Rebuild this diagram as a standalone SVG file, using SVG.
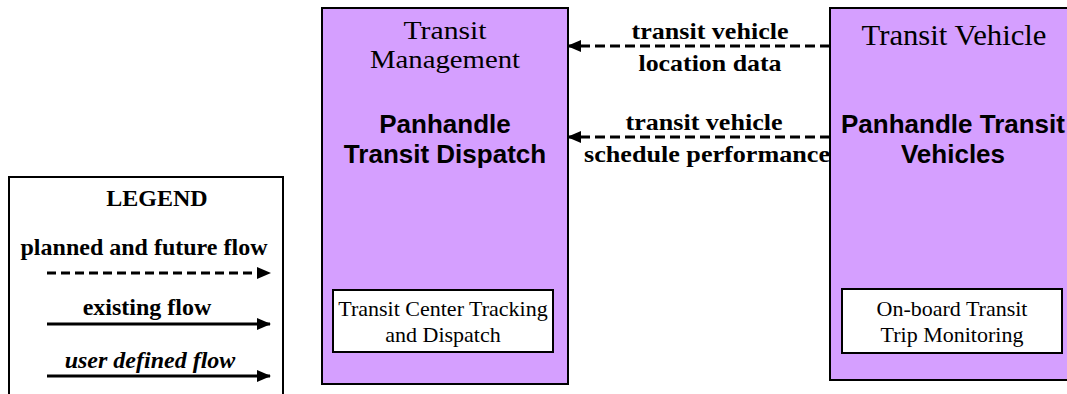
<svg xmlns="http://www.w3.org/2000/svg" width="1067" height="394" viewBox="0 0 1067 394">
<style>
.node{fill:#D59FFF;stroke:#000;stroke-width:2}
.inner{fill:#fff;stroke:#000;stroke-width:2}
.title{font-family:"Liberation Serif",serif;font-size:30px;fill:#000;text-anchor:middle}
.t2{font-size:26px}
.name{font-family:"Liberation Sans",sans-serif;font-weight:bold;font-size:26px;fill:#000;text-anchor:middle}
.fn{font-family:"Liberation Serif",serif;font-size:22px;fill:#000;text-anchor:middle}
.lbl{font-family:"Liberation Serif",serif;font-weight:bold;font-size:24px;fill:#000;text-anchor:middle}
.flow{stroke:#000;stroke-width:3;fill:none}
.dash{stroke-dasharray:10,5}
.ldash{stroke-dasharray:9,5}
</style>
<defs>
<marker id="ah" viewBox="0 0 14 12" refX="13" refY="6" markerWidth="14" markerHeight="12" markerUnits="userSpaceOnUse" orient="auto">
<path d="M0,0 L14,6 L0,12 Z" fill="#000"/>
</marker>
</defs>
<g id="legend">
<rect x="9" y="177" width="274" height="230" fill="#fff" stroke="#000" stroke-width="2"/>
<text x="157" y="206" class="lbl">LEGEND</text>
<text x="144" y="255" class="lbl">planned and future flow</text>
<line x1="47" y1="273" x2="270" y2="273" class="flow ldash" marker-end="url(#ah)"/>
<text x="147" y="315" class="lbl">existing flow</text>
<line x1="47" y1="324" x2="270" y2="324" class="flow" marker-end="url(#ah)"/>
<text x="150" y="368" class="lbl" font-style="italic">user defined flow</text>
<line x1="47" y1="376" x2="270" y2="376" class="flow" marker-end="url(#ah)"/>
</g>
<g id="transit-management">
<rect x="322" y="8" width="246" height="376" class="node"/>
<text x="445" y="39" class="title t2" textLength="83" lengthAdjust="spacingAndGlyphs">Transit</text>
<text x="445" y="68" class="title t2" textLength="150" lengthAdjust="spacingAndGlyphs">Management</text>
<text x="445" y="133" class="name">Panhandle</text>
<text x="445" y="163" class="name">Transit Dispatch</text>
<rect x="333" y="290" width="220" height="62" class="inner"/>
<text x="443" y="316" class="fn">Transit Center Tracking</text>
<text x="443" y="342" class="fn">and Dispatch</text>
</g>
<g id="transit-vehicle">
<rect x="830" y="8" width="246" height="372" class="node"/>
<text x="954" y="45" class="title" textLength="185" lengthAdjust="spacingAndGlyphs">Transit Vehicle</text>
<text x="953" y="133" class="name">Panhandle Transit</text>
<text x="953" y="163" class="name">Vehicles</text>
<rect x="842" y="289" width="220" height="64" class="inner"/>
<text x="952" y="316" class="fn">On-board Transit</text>
<text x="952" y="342" class="fn">Trip Monitoring</text>
</g>
<g id="connectors">
<line x1="830" y1="46" x2="568" y2="46" class="flow dash" marker-end="url(#ah)"/>
<text x="710" y="39" class="lbl" textLength="157" lengthAdjust="spacingAndGlyphs">transit vehicle</text>
<text x="710" y="71" class="lbl" textLength="143" lengthAdjust="spacingAndGlyphs">location data</text>
<line x1="830" y1="137" x2="568" y2="137" class="flow dash" marker-end="url(#ah)"/>
<text x="704" y="130" class="lbl" textLength="157" lengthAdjust="spacingAndGlyphs">transit vehicle</text>
<text x="707" y="162" class="lbl" textLength="246" lengthAdjust="spacingAndGlyphs">schedule performance</text>
</g>
</svg>
